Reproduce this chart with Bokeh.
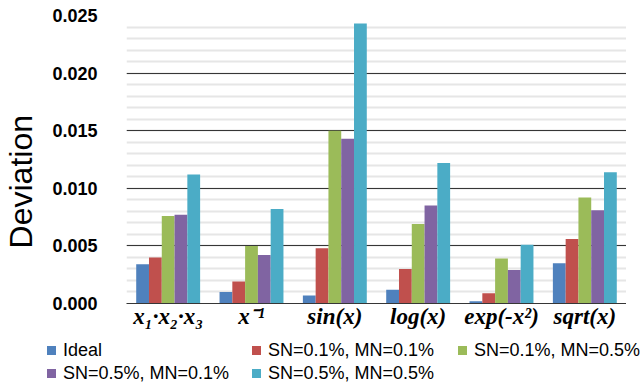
from bokeh.plotting import figure
from bokeh.layouts import column
from bokeh.models import (ColumnDataSource, FactorRange, Range1d, FixedTicker,
                          NumeralTickFormatter, Div)
from bokeh.transform import dodge
from bokeh.embed import file_html
from bokeh.resources import INLINE

# ---- data ----
categories = ["x\u2081\u00b7x\u2082\u00b7x\u2083", "x\u207b\u00b9", "sin(x)", "log(x)", "exp(-x\u00b2)", "sqrt(x)"]
series_names = ["Ideal", "SN=0.1%, MN=0.1%", "SN=0.1%, MN=0.5%", "SN=0.5%, MN=0.1%", "SN=0.5%, MN=0.5%"]
ideal     = [0.0034, 0.0010, 0.0007, 0.0012, 0.0002, 0.0035]
sn01_mn01 = [0.0040, 0.0019, 0.0048, 0.0030, 0.0009, 0.0056]
sn01_mn05 = [0.0076, 0.0050, 0.0150, 0.0069, 0.0039, 0.0092]
sn05_mn01 = [0.0077, 0.0042, 0.0143, 0.0085, 0.0029, 0.0081]
sn05_mn05 = [0.0112, 0.0082, 0.0243, 0.0122, 0.0051, 0.0114]
y_ticks = [0.0, 0.005, 0.010, 0.015, 0.020, 0.025]
y_minor_ticks = [i / 1000 for i in range(0, 26)]

colors = ["#4F81BD", "#C0504D", "#9BBB59", "#8064A2", "#4BACC6"]
keys = ["ideal", "s1m1", "s1m5", "s5m1", "s5m5"]
source = ColumnDataSource(dict(cat=categories, ideal=ideal, s1m1=sn01_mn01,
                               s1m5=sn01_mn05, s5m1=sn05_mn01, s5m5=sn05_mn05))

p = figure(x_range=FactorRange(*categories), y_range=Range1d(0, 0.025),
           width=626, height=340, output_backend="svg", toolbar_location=None,
           min_border_left=113, min_border_right=0, min_border_top=15,
           min_border_bottom=37)
p.outline_line_color = None
p.background_fill_color = "white"

bw = 0.1534
for j, (k, c) in enumerate(zip(keys, colors)):
    p.vbar(x=dodge("cat", (j - 2) * bw, range=p.x_range), top=k, width=bw,
           source=source, fill_color=c, line_color=None)

ticker = FixedTicker(ticks=y_ticks, minor_ticks=y_minor_ticks)
p.yaxis.ticker = ticker
p.yaxis.formatter = NumeralTickFormatter(format="0.000")
p.yaxis.axis_line_color = None
p.yaxis.major_tick_line_color = None
p.yaxis.minor_tick_line_color = None
p.yaxis.major_label_standoff = 23
p.yaxis.major_label_text_font = "Liberation Sans"
p.yaxis.major_label_text_font_style = "bold"
p.yaxis.major_label_text_font_size = "18px"
p.yaxis.major_label_text_color = "black"
p.yaxis.axis_label = "Deviation" + "\u00a0" * 5
p.yaxis.axis_label_text_font = "Liberation Sans"
p.yaxis.axis_label_text_font_style = "normal"
p.yaxis.axis_label_text_font_size = "32px"
p.yaxis.axis_label_text_color = "black"
p.yaxis.axis_label_standoff = 10

p.ygrid.ticker = ticker
p.ygrid.grid_line_color = "#363636"
p.ygrid.grid_line_width = 1.2
p.ygrid.minor_grid_line_color = "#e6e6e6"
p.ygrid.minor_grid_line_width = 2
p.xgrid.grid_line_color = None

p.xaxis.axis_line_color = "#363636"
p.xaxis.axis_line_width = 1.2
p.xaxis.major_tick_line_color = None
p.xaxis.minor_tick_line_color = None
p.xaxis.major_label_standoff = -6
p.xaxis.major_label_text_font = "Liberation Serif"
p.xaxis.major_label_text_font_style = "bold italic"
p.xaxis.major_label_text_font_size = "23px"
p.xaxis.major_label_text_color = "black"

# ---- legend (HTML strip below the chart) ----
legend_cols = [[0, 3], [1, 4], [2]]
col_x = [47, 252, 458]
parts = []
for col, x in zip(legend_cols, col_x):
    for row, i in enumerate(col):
        top = row * 23
        parts.append(
            f'<span style="position:absolute;left:{x}px;top:{top + 6}px;width:9px;height:9px;'
            f'background:{colors[i]};"></span>'
            f'<span style="position:absolute;left:{x + 16}px;top:{top}px;line-height:21px;'
            f'white-space:nowrap;">{series_names[i]}</span>')
html = ('<div style="position:relative;width:626px;height:45px;'
        'font-family:\'Liberation Sans\',Arial,sans-serif;font-size:18px;color:black;">'
        + "".join(parts) + '</div>')
legend_div = Div(text=html, width=626, height=45, margin=0)

layout = column(p, legend_div, spacing=0)
open("out.html", "w").write(file_html(layout, INLINE))
